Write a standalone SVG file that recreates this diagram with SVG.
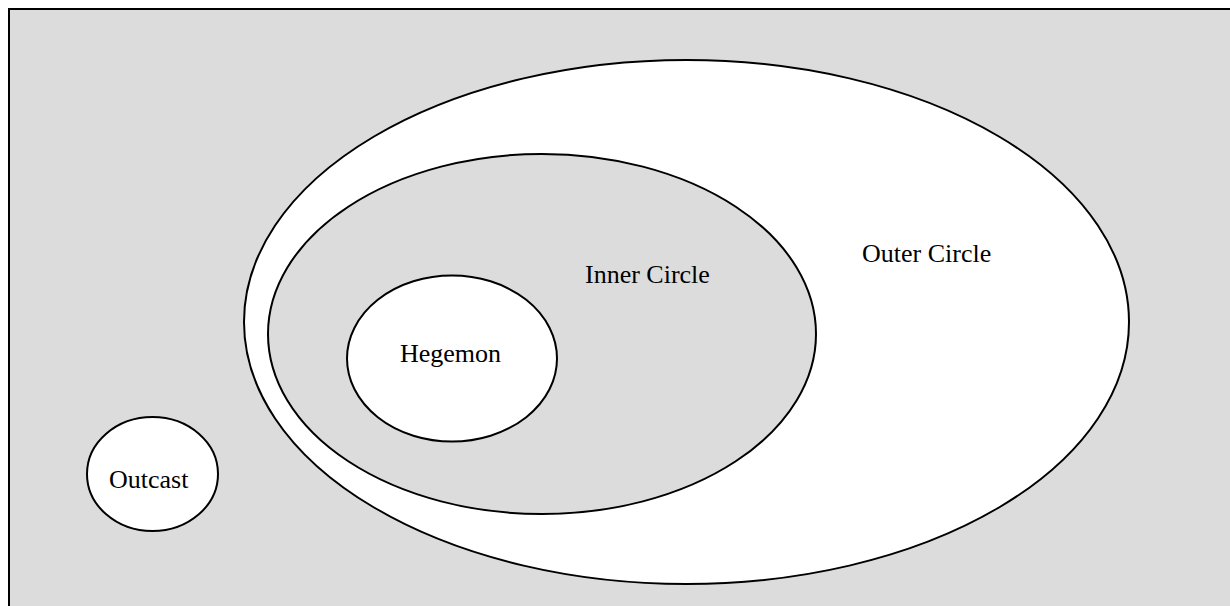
<svg xmlns="http://www.w3.org/2000/svg" width="1230" height="606" viewBox="0 0 1230 606">
<style>
.bg{fill:#dcdcdc;stroke:#000;stroke-width:2}
.w{fill:#fff;stroke:#000;stroke-width:2}
.g{fill:#dcdcdc;stroke:#000;stroke-width:2}
text{font-family:"Liberation Serif","Times New Roman",serif;font-size:26px;fill:#000}
</style>
<rect class="bg" x="9" y="9" width="1230" height="610"/>
<g id="outer-circle">
<ellipse class="w" cx="686.5" cy="322" rx="442.5" ry="262"/>
<text x="862" y="262">Outer Circle</text>
</g>
<g id="inner-circle">
<ellipse class="g" cx="542" cy="334" rx="274" ry="180"/>
<text x="585" y="283">Inner Circle</text>
</g>
<g id="hegemon">
<ellipse class="w" cx="452" cy="358.5" rx="105" ry="83"/>
<text x="400" y="362">Hegemon</text>
</g>
<g id="outcast">
<ellipse class="w" cx="152.5" cy="474" rx="65.5" ry="57"/>
<text x="109" y="488">Outcast</text>
</g>
<g id="connectors"/>
</svg>
